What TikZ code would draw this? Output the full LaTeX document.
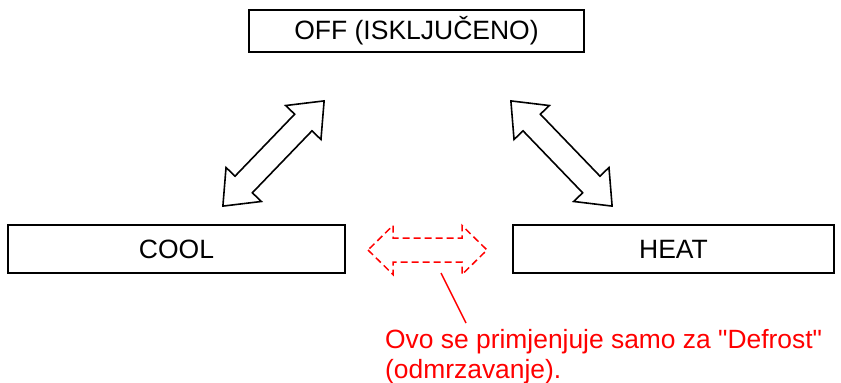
\documentclass[tikz,border=0pt]{standalone}
\usepackage{fontspec}
\setmainfont{Liberation Sans}
\usepackage{tikz}

\begin{document}
\begin{tikzpicture}[x=1pt,y=-1pt,
	mode/.style={draw,rectangle,align=center,line width=1.6pt,inner sep=0pt,font=\fontsize{26.5}{30}\selectfont},
	pics/dblarrow/.style 2 args={code={
		\draw[pic actions] (-#1,0) -- (-#1+#2,24.5) -- (-#1+#2,12) -- (#1-#2,12) -- (#1-#2,24.5)
			-- (#1,0) -- (#1-#2,-24.5) -- (#1-#2,-12) -- (-#1+#2,-12) -- (-#1+#2,-24.5) -- cycle;
	}}]
\useasboundingbox (0,0) rectangle (841,383);
\node[mode, minimum width=335pt, minimum height=42pt] (off) at (416.5,31) {OFF (ISKLJUČENO)};
\node[mode, minimum width=337pt, minimum height=48pt] (cool) at (176.5,249) {COOL};
\node[mode, minimum width=321pt, minimum height=48pt] (heat) at (673.5,249) {HEAT};
	\pic[draw,line width=1.6pt,rotate=46.1] (offcool) at (273.5,153.5) {dblarrow={73}{30}};
	\pic[draw,line width=1.6pt,rotate=-46.1] (offheat) at (561.5,153.5) {dblarrow={73}{30}};
	\pic[draw,red,line width=1.5pt,dash pattern=on 7pt off 4pt] (coolheat) at (427.5,250) {dblarrow={59.5}{25}};
\node[red,align=left,anchor=north west,inner sep=0pt,font=\fontsize{26.4}{30}\selectfont] (note) at (385,329)
	{Ovo se primjenjuje samo za \textquotedbl Defrost\textquotedbl\\(odmrzavanje).};
\coordinate (pointer) at (441,273);
\coordinate (pointerend) at (466,323);
	\draw[red,line width=1.4pt] (pointer) -- (pointerend);
\end{tikzpicture}
\end{document}
